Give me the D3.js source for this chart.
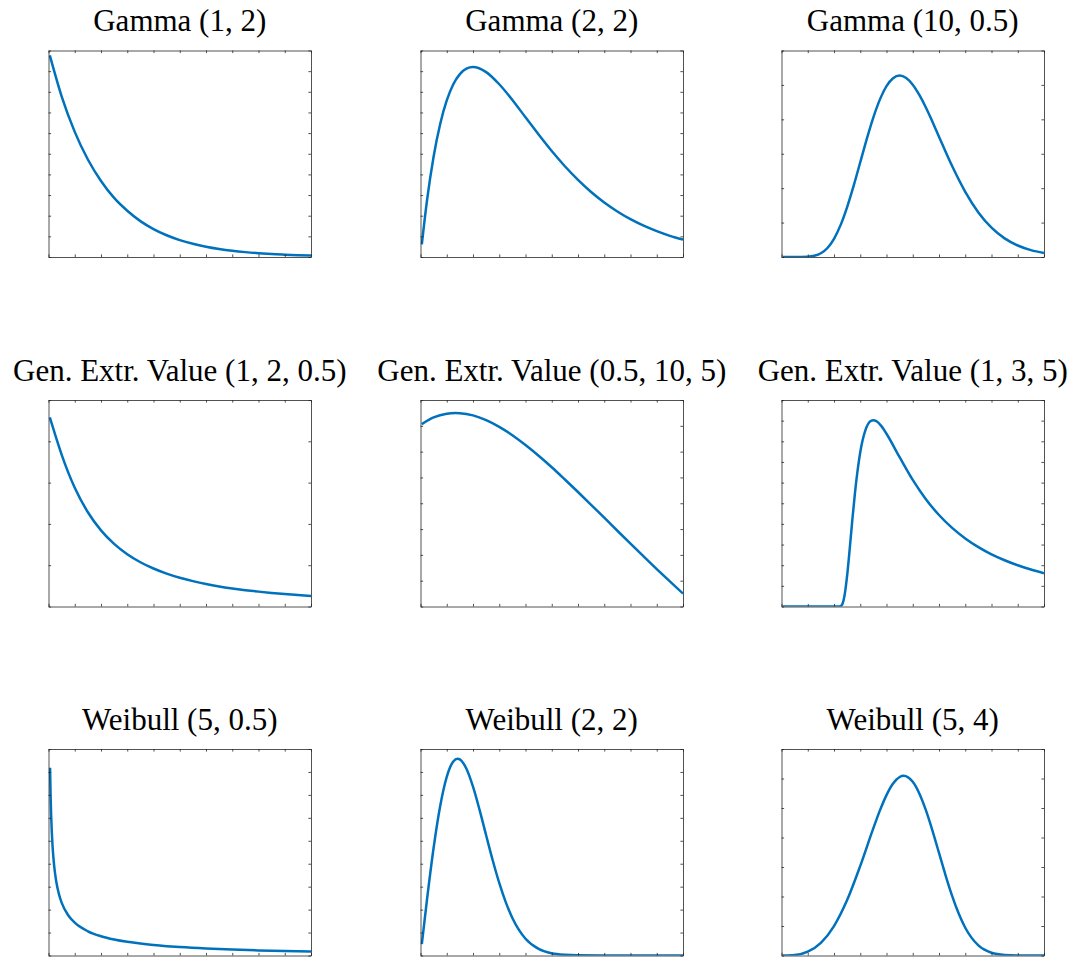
<!DOCTYPE html>
<html>
<head>
<meta charset="utf-8">
<script src="https://cdn.jsdelivr.net/npm/d3@7"></script>
<style>
  html, body { margin: 0; padding: 0; background: #fff; }
  svg { display: block; }
</style>
</head>
<body>
<svg id="chart" width="1081" height="957"></svg>
<script>
// ---------- data ----------
const titles = [
  "Gamma (1, 2)", "Gamma (2, 2)", "Gamma (10, 0.5)",
  "Gen. Extr. Value (1, 2, 0.5)", "Gen. Extr. Value (0.5, 10, 5)", "Gen. Extr. Value (1, 3, 5)",
  "Weibull (5, 0.5)", "Weibull (2, 2)", "Weibull (5, 4)"
];

const xDomain = [0, 10];
const xTicks = [0, 1, 2, 3, 4, 5, 6, 7, 8, 9, 10];

const yDomains = [
  [0, 0.5], [0, 0.2], [0, 0.3],
  [0, 0.25], [0.026, 0.042], [0, 0.2],
  [0, 0.9], [0, 0.45], [0, 0.35]
];
const yTickSteps = [0.05, 0.02, 0.05, 0.05, 0.002, 0.02, 0.1, 0.05, 0.05];

// Gamma (1,2)
const gamma12X = [0.05,0.5,1,1.5,2,2.5,3,3.5,4,4.5,5,5.5,6,6.5,7,7.5,8,8.5,9,9.5,10];
const gamma12Y = [0.488,0.389,0.303,0.236,0.184,0.143,0.112,0.0869,0.0677,0.0527,0.0410,0.0320,0.0249,0.0194,0.0151,0.0118,0.0092,0.0071,0.0056,0.0043,0.0034];

// Gamma (2,2)
const gamma22X = [0.05,0.25,0.5,0.75,1,1.25,1.5,1.75,2,2.5,3,3.5,4,4.5,5,5.5,6,6.5,7,7.5,8,8.5,9,9.5,10];
const gamma22Y = [0.0122,0.0552,0.0974,0.1289,0.1516,0.1673,0.1771,0.1824,0.1839,0.1791,0.1673,0.1521,0.1353,0.1186,0.1026,0.0879,0.0747,0.0630,0.0528,0.0441,0.0366,0.0303,0.0250,0.0205,0.0168];

// Gamma (10,0.5)
const gamma105X = [0.05,0.5,1,1.25,1.5,1.75,2,2.25,2.5,2.75,3,3.25,3.5,3.75,4,4.25,4.5,4.75,5,5.25,5.5,5.75,6,6.5,7,7.5,8,8.5,9,9.5,10];
const gamma105Y = [0,0.000002,0.00038,0.00173,0.0054,0.0131,0.0265,0.0463,0.0726,0.1037,0.1376,0.1717,0.2029,0.2290,0.2483,0.2597,0.2636,0.2600,0.2503,0.2354,0.2172,0.1965,0.1748,0.1321,0.0947,0.0648,0.0426,0.0271,0.0167,0.0100,0.0058];

// Gen. Extr. Value (1,2,0.5)
const gev1X = [0.05,0.25,0.5,0.75,1,1.5,2,2.5,3,3.5,4,4.5,5,5.5,6,6.5,7,7.5,8,8.5,9,9.5,10];
const gev1Y = [0.2291,0.2083,0.1839,0.1624,0.1438,0.1141,0.0922,0.0758,0.0633,0.0536,0.0460,0.0398,0.0348,0.0307,0.0272,0.0243,0.0219,0.0198,0.0180,0.0164,0.0150,0.0138,0.0127];

// Gen. Extr. Value (0.5,10,5)
const gev2X = [0.05,0.5,1,1.33,1.5,2,2.5,3,3.5,4,4.5,5,5.5,6,6.5,7,7.5,8,8.5,9,9.5,10];
const gev2Y = [0.04013,0.04065,0.04094,0.04099,0.04098,0.04081,0.04044,0.03992,0.03927,0.03851,0.03768,0.03679,0.03584,0.03487,0.03388,0.03288,0.03187,0.03087,0.02988,0.02890,0.02794,0.02700];

// Gen. Extr. Value (1,3,5)
const gev3X = [0.05,0.5,1,1.5,2,2.1,2.2,2.3,2.4,2.5,2.6,2.7,2.8,2.9,3,3.2,3.4,3.5,3.6,3.8,4,4.5,5,5.5,6,6.5,7,7.5,8,8.5,9,9.5,10];
const gev3Y = [0,0,0,0,0,0,0.00002,0.0015,0.0104,0.0298,0.0562,0.0843,0.1103,0.1321,0.1494,0.1710,0.1796,0.1804,0.1797,0.1749,0.1673,0.1446,0.1226,0.1039,0.0886,0.0761,0.0659,0.0575,0.0505,0.0448,0.0399,0.0358,0.0322];

// Weibull (5,0.5)
const wbl1X = [0.06,0.08,0.1,0.125,0.15,0.2,0.25,0.3,0.4,0.5,0.75,1,1.5,2,2.5,3,3.5,4,4.5,5,6,7,8,9,10];
const wbl1Y = [0.8182,0.6967,0.6139,0.5400,0.4856,0.4094,0.3576,0.3195,0.2665,0.2305,0.1753,0.1430,0.1056,0.0840,0.0697,0.0595,0.0518,0.0457,0.0408,0.0368,0.0305,0.0259,0.0223,0.0195,0.0172];

// Weibull (2,2)
const wbl2X = [0.05,0.25,0.5,0.75,1,1.25,1.414,1.5,1.75,2,2.25,2.5,2.75,3,3.25,3.5,3.75,4,4.5,5,5.5,6,7,8,9,10];
const wbl2Y = [0.0250,0.1231,0.2349,0.3258,0.3894,0.4229,0.4289,0.4274,0.4069,0.3679,0.3173,0.2620,0.2076,0.1581,0.1159,0.0818,0.0557,0.0366,0.0143,0.0048,0.0014,0.0004,0,0,0,0];

// Weibull (5,4)
const wbl3X = [0.05,0.5,1,1.5,2,2.5,3,3.5,3.75,4,4.25,4.5,4.65,5,5.25,5.5,5.75,6,6.25,6.5,6.75,7,7.5,8,8.5,9,9.5,10];
const wbl3Y = [0,0.0008,0.0064,0.0214,0.0499,0.0939,0.1518,0.2158,0.2460,0.2719,0.2915,0.3026,0.3046,0.2943,0.2747,0.2463,0.2117,0.1738,0.1360,0.1011,0.0711,0.0471,0.0171,0.0047,0.0009,0.0001,0,0];

const seriesX = [gamma12X, gamma22X, gamma105X, gev1X, gev2X, gev3X, wbl1X, wbl2X, wbl3X];
const seriesY = [gamma12Y, gamma22Y, gamma105Y, gev1Y, gev2Y, gev3Y, wbl1Y, wbl2Y, wbl3Y];

// ---------- layout ----------
const colLeft = [48.5, 420.5, 781.5];
const rowTop = [50.5, 400, 749];
const pw = 262.5, ph = 206.5;
const tickLen = 2.6;
const lineColor = "#0072BD";
const axisColor = "#262626";

const svg = d3.select("#chart");

titles.forEach((title, i) => {
  const r = Math.floor(i / 3), c = i % 3;
  const x0 = colLeft[c], y0 = rowTop[r];
  const g = svg.append("g").attr("transform", `translate(${x0},${y0})`);

  const x = d3.scaleLinear().domain(xDomain).range([0, pw]);
  const yd = yDomains[i];
  const y = d3.scaleLinear().domain(yd).range([ph, 0]);
  const step = yTickSteps[i];
  const n = Math.round((yd[1] - yd[0]) / step);
  const yTicks = d3.range(n + 1).map(k => yd[0] + k * step);

  // clip
  const clipId = "clip" + i;
  g.append("clipPath").attr("id", clipId)
    .append("rect").attr("x", 0).attr("y", 0).attr("width", pw).attr("height", ph);

  // curve
  const pts = seriesX[i].map((xv, k) => [xv, seriesY[i][k]]);
  g.append("path")
    .datum(pts)
    .attr("clip-path", `url(#${clipId})`)
    .attr("fill", "none")
    .attr("stroke", lineColor)
    .attr("stroke-width", 2.5)
    .attr("stroke-linejoin", "round")
    .attr("d", d3.line().x(d => x(d[0])).y(d => y(d[1])).curve(d3.curveMonotoneX));

  // axes (ticks inward on all four sides)
  const mk = (axis, tx, ty) => {
    const a = g.append("g").attr("transform", `translate(${tx},${ty})`).call(axis);
    a.selectAll("text").remove();
    a.selectAll("path, line").attr("stroke", axisColor).attr("stroke-width", 0.8);
    return a;
  };
  mk(d3.axisBottom(x).tickValues(xTicks).tickSizeInner(-tickLen).tickSizeOuter(0).tickFormat(""), 0, ph);
  mk(d3.axisTop(x).tickValues(xTicks).tickSizeInner(-tickLen).tickSizeOuter(0).tickFormat(""), 0, 0);
  mk(d3.axisLeft(y).tickValues(yTicks).tickSizeInner(-tickLen).tickSizeOuter(0).tickFormat(""), 0, 0);
  mk(d3.axisRight(y).tickValues(yTicks).tickSizeInner(-tickLen).tickSizeOuter(0).tickFormat(""), pw, 0);

  // title
  svg.append("text")
    .attr("x", x0 + pw / 2)
    .attr("y", y0 - 19.5)
    .attr("text-anchor", "middle")
    .attr("font-family", "'Liberation Serif', 'DejaVu Serif', serif")
    .attr("font-size", 31)
    .attr("fill", "#000")
    .text(title);
});
</script>
</body>
</html>
